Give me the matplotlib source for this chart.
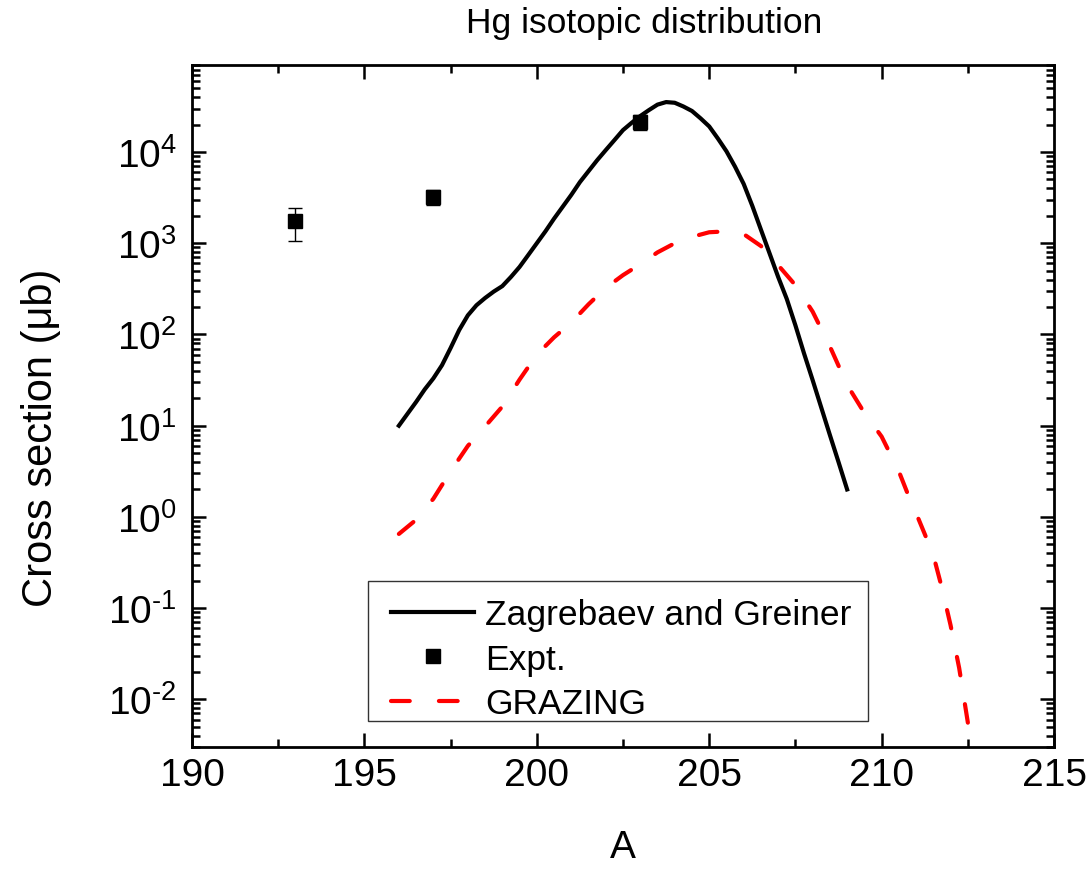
import numpy as np
import matplotlib
matplotlib.use('Agg')
import matplotlib.pyplot as plt
from matplotlib.patches import Rectangle
from matplotlib.ticker import MultipleLocator, LogLocator, NullFormatter, FuncFormatter, FixedLocator

# ---------------- data ----------------
zg_A = [196.0, 196.25, 196.5, 196.75, 197.0, 197.25, 197.5, 197.75, 198.0, 198.25,
        198.5, 198.75, 199.0, 199.25, 199.5, 199.75, 200.0, 200.25, 200.5, 200.75,
        201.0, 201.25, 201.5, 201.75, 202.0, 202.25, 202.5, 202.75, 203.0, 203.25,
        203.5, 203.75, 204.0, 204.25, 204.5, 204.75, 205.0, 205.25, 205.5, 205.75,
        206.0, 206.25, 206.5, 206.75, 207.0, 207.25, 207.5, 207.75, 208.0, 208.25,
        208.5, 208.75, 209.0]
zg_sigma = [10, 13.5, 18.2, 25, 33, 46, 71, 112, 162, 209,
            251, 295, 339, 427, 550, 741, 1000, 1350, 1860, 2510,
            3390, 4680, 6170, 8130, 10500, 13500, 17400, 20900, 24800, 28800,
            33100, 35300, 34700, 31600, 28200, 23400, 19100, 14100, 10200, 6900,
            4470, 2570, 1410, 776, 427, 245, 126, 62, 31.6, 15.8,
            7.9, 4.0, 2.0]

gr_A = [196.0, 196.5, 197.0, 197.5, 198.0, 198.5, 199.0, 199.5, 200.0, 200.5,
        201.0, 201.5, 202.0, 202.5, 203.0, 203.5, 204.0, 204.5, 205.0, 205.5,
        206.0, 206.5, 207.0, 207.5, 208.0, 208.5, 209.0, 209.5, 210.0, 210.5,
        210.75, 211.0, 211.25, 211.5, 211.75, 212.0, 212.25, 212.5, 212.75]
gr_sigma = [0.65, 0.93, 1.58, 3.16, 6.0, 9.8, 16.2, 32, 60, 93,
            135, 214, 324, 447, 589, 794, 1000, 1175, 1320, 1350,
            1260, 933, 575, 347, 178, 74, 28, 13.8, 7.6, 3.16,
            1.82, 1.10, 0.65, 0.38, 0.166, 0.065, 0.022, 0.0056, 0.001]

expt_A = [193, 197, 203]
expt_sigma = [1750, 3210, 21300]
expt_err = [690, 590, 3900]

x_ticks = [190, 195, 200, 205, 210, 215]
y_ticks = [1e-2, 1e-1, 1e0, 1e1, 1e2, 1e3, 1e4]
legend_labels = ['Zagrebaev and Greiner', 'Expt.', 'GRAZING']

# ---------------- style ----------------
plt.rcParams['font.family'] = ['Liberation Sans', 'DejaVu Sans']
plt.rcParams['mathtext.fontset'] = 'custom'
plt.rcParams['mathtext.rm'] = 'Liberation Sans'
plt.rcParams['mathtext.it'] = 'Liberation Sans:italic'
plt.rcParams['mathtext.bf'] = 'Liberation Sans:bold'
plt.rcParams['axes.unicode_minus'] = False

W, H = 1092, 870
fig = plt.figure(figsize=(W / 100, H / 100), dpi=100)
L, R, T, B = 192, 1054, 66, 748
ax = fig.add_axes([L / W, 1 - B / H, (R - L) / W, (B - T) / H])


def px_x(p):
    return (p - L) / (R - L)


def px_y(p):
    return (B - p) / (B - T)


ax.plot(zg_A, zg_sigma, color='black', lw=3, label=legend_labels[0],
        solid_joinstyle='round', zorder=3)
ax.errorbar(expt_A, expt_sigma, yerr=expt_err, fmt='none', ecolor='black',
            elinewidth=1, capsize=5, capthick=1, zorder=4)
ax.plot(expt_A, expt_sigma, 's', color='black', ms=10.5, label=legend_labels[1], zorder=5)
ax.plot(gr_A, gr_sigma, color='red', lw=3, dashes=(4.5, 7),
        dash_capstyle='round', label=legend_labels[2], zorder=3)

ax.set_yscale('log')
ax.set_xlim(190, 215)
ax.set_ylim(3e-3, 9e4)

ax.xaxis.set_major_locator(FixedLocator(x_ticks))
ax.xaxis.set_minor_locator(MultipleLocator(2.5))
ax.yaxis.set_major_locator(FixedLocator(y_ticks))
ax.yaxis.set_minor_locator(LogLocator(base=10, subs=np.arange(2, 10), numticks=20))
ax.yaxis.set_minor_formatter(NullFormatter())


def log_fmt(v, pos):
    e = int(round(np.log10(v)))
    s = str(e) if e >= 0 else r'\text{-}' + str(-e)
    return r'$\mathdefault{10^{%s}}$' % s


ax.yaxis.set_major_formatter(FuncFormatter(log_fmt))

ax.tick_params(which='both', direction='in', top=True, right=True)
ax.tick_params(which='major', length=10, width=1.8, labelsize=28)
ax.tick_params(which='minor', length=5.5, width=1.8)
ax.tick_params(axis='x', which='major', pad=7)
ax.tick_params(axis='y', which='major', pad=11)
for sp in ax.spines.values():
    sp.set_linewidth(2)

ax.set_xlabel('A', fontsize=28)
ax.xaxis.set_label_coords(0.5, -0.120)
ax.set_ylabel('Cross section (\u03bcb)', fontsize=30)
ax.yaxis.set_label_coords(-0.152, 0.4545)

fig.text(644 / W, 1 - 33 / H, 'Hg isotopic distribution', ha='center',
         va='baseline', fontsize=25.5)

# legend frame (drawn as a rectangle) and frameless legend inside it
ax.add_patch(Rectangle((px_x(368), px_y(722)), px_x(868) - px_x(368),
                       px_y(582) - px_y(722), transform=ax.transAxes,
                       facecolor='white', edgecolor='#333333', lw=1, zorder=6))
leg = ax.legend(loc='upper left', bbox_to_anchor=(px_x(391), px_y(599)),
                borderaxespad=0, borderpad=0, fontsize=25.5, frameon=False,
                handlelength=2.35, handletextpad=0.3, labelspacing=0.33)
leg.set_zorder(7)

fig.savefig('out.png', dpi=100)
